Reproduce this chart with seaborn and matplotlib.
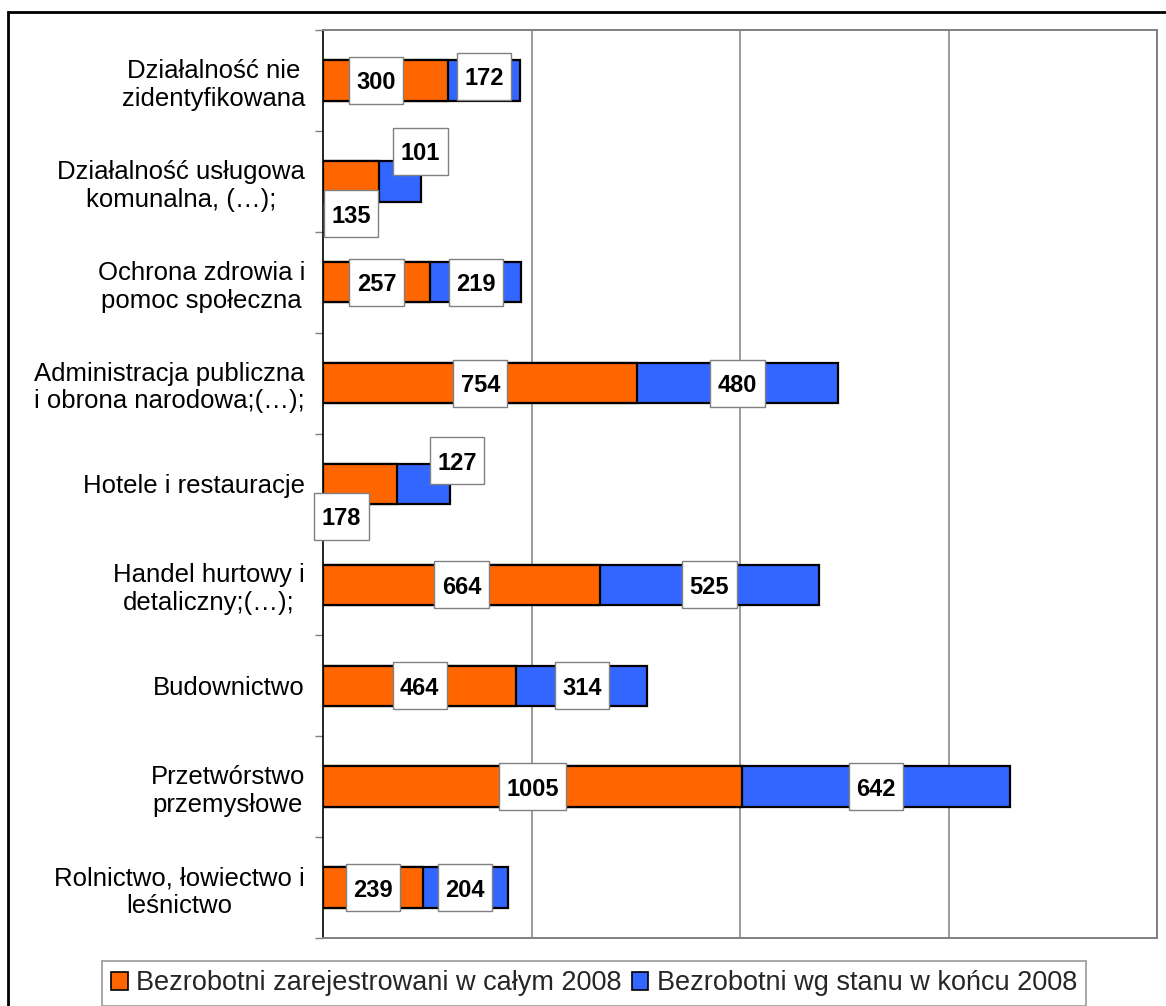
import matplotlib
matplotlib.use("Agg")
import matplotlib.pyplot as plt
from matplotlib.patches import Rectangle
from matplotlib.ticker import FixedLocator
from matplotlib.transforms import Affine2D, ScaledTranslation
import seaborn as sns
import pandas as pd

categories = [
    "Działalność nie\nzidentyfikowana",
    "Działalność usługowa\nkomunalna, (…);",
    "Ochrona zdrowia i\npomoc społeczna",
    "Administracja publiczna\ni obrona narodowa;(…);",
    "Hotele i restauracje",
    "Handel hurtowy i\ndetaliczny;(…);",
    "Budownictwo",
    "Przetwórstwo\nprzemysłowe",
    "Rolnictwo, łowiectwo i\nleśnictwo",
]
registered_2008 = [300, 135, 257, 754, 178, 664, 464, 1005, 239]
end_of_2008 = [172, 101, 219, 480, 127, 525, 314, 642, 204]
series_names = ["Bezrobotni zarejestrowani w całym 2008", "Bezrobotni wg stanu w końcu 2008"]

ORANGE = "#FF6600"
BLUE = "#3366FF"

sns.set_theme(style="white")
plt.rcParams["font.family"] = ["Liberation Sans", "DejaVu Sans"]

df = pd.DataFrame({
    "cat": categories,
    "s1": registered_2008,
    "s2": end_of_2008,
})
df["total"] = df["s1"] + df["s2"]

W, H = 1166, 1006
DPI = 100
fig = plt.figure(figsize=(W / DPI, H / DPI), dpi=DPI)
ax = fig.add_axes([323 / W, 1 - 938 / H, (1157 - 323) / W, (938 - 30) / H])

sns.barplot(data=df, x="total", y="cat", order=categories, color=BLUE, saturation=1,
            edgecolor="black", linewidth=1.6, width=0.4, orient="h", ax=ax, zorder=3)
sns.barplot(data=df, x="s1", y="cat", order=categories, color=ORANGE, saturation=1,
            edgecolor="black", linewidth=1.6, width=0.4, orient="h", ax=ax, zorder=4)

ax.set_xlim(0, 2000)
ax.set_ylim(len(categories) - 0.5, -0.5)
ax.set_xticks([500, 1000, 1500])
ax.set_xticklabels([])
ax.tick_params(axis="x", length=0)
ax.grid(axis="x", color="#808080", linewidth=1.1)
ax.grid(axis="y", visible=False)
ax.set_axisbelow(True)
ax.set_xlabel("")
ax.set_ylabel("")

ax.tick_params(axis="y", which="major", length=0, pad=13, labelsize=18.5, labelcolor="black")
for lbl in ax.get_yticklabels():
    lbl.set_multialignment("center")
    lbl.set_linespacing(1.2)
ax.yaxis.set_minor_locator(FixedLocator([i - 0.5 for i in range(len(categories) + 1)]))
ax.tick_params(axis="y", which="minor", length=6, width=1.0, color="#808080", left=True)

for side in ["top", "right", "bottom"]:
    ax.spines[side].set_color("#808080")
    ax.spines[side].set_linewidth(1.4)
ax.spines["left"].set_color("black")
ax.spines["left"].set_linewidth(1.2)

# label placement adjustments (dx in data units, dy in category units)
adjust = {
    (0, 0): (-23, 0),
    (0, 1): (0, -0.04),
    (1, 0): (0, 0.32),
    (1, 1): (48, -0.30),
    (4, 0): (-45, 0.32),
    (4, 1): (80, -0.23),
}
LABEL_FS = 17
digit_px = 0.556 * LABEL_FS * DPI / 72
box_h = 47
for i in range(len(categories)):
    v1 = registered_2008[i]
    v2 = end_of_2008[i]
    for s, (xc, val) in enumerate([(v1 / 2, v1), (v1 + v2 / 2, v2)]):
        dx, dy = adjust.get((i, s), (0, 0))
        x, y = xc + dx, i + dy
        txt = str(val)
        box_w = len(txt) * digit_px + 15
        trans = Affine2D() + ScaledTranslation(x, y, ax.transData)
        ax.add_patch(Rectangle((-box_w / 2, -box_h / 2), box_w, box_h, transform=trans,
                               facecolor="white", edgecolor="#808080", linewidth=1.0,
                               zorder=6, clip_on=False))
        ax.text(x, y, txt, ha="center", va="center_baseline", fontsize=LABEL_FS,
                fontweight="bold", color="black", zorder=7)

handles = [Rectangle((0, 0), 1, 1, facecolor=c, edgecolor="black", linewidth=1.2) for c in (ORANGE, BLUE)]
leg = fig.legend(handles, series_names, loc="upper left",
                 bbox_to_anchor=(102 / W, 1 - 961 / H), borderaxespad=0, ncol=2,
                 fontsize=19.5, frameon=True, fancybox=False, handlelength=0.6, handleheight=0.6,
                 handletextpad=0.3, columnspacing=0.4, borderpad=0.35)
leg.get_frame().set_edgecolor("#808080")
leg.get_frame().set_linewidth(1.2)

fig.add_artist(Rectangle((8 / W, -0.02), 1.1, 1 - 12 / H + 0.02, transform=fig.transFigure,
                         fill=False, edgecolor="black", linewidth=2))

fig.savefig("out.png", dpi=DPI, facecolor="white")
